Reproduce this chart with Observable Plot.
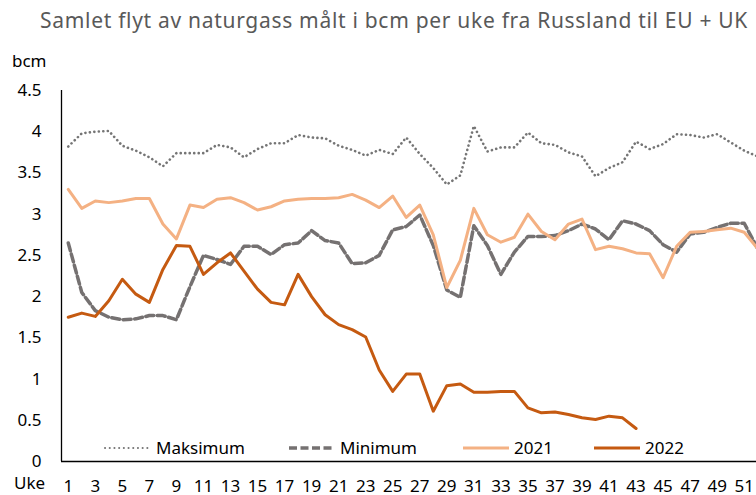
<!DOCTYPE html>
<html>
<head>
<meta charset="utf-8">
<script src="https://cdn.jsdelivr.net/npm/d3@7"></script>
<script src="https://cdn.jsdelivr.net/npm/@observablehq/plot@0.6"></script>
<style>
  html, body { margin: 0; padding: 0; background: #fff; }
  #wrap { position: relative; width: 756px; height: 495px; overflow: hidden; font-family: "Noto Sans", sans-serif; }
  #chart { position: absolute; left: 0; top: 0; width: 780px; }
  #chart svg { max-width: none !important; }
  #title { position: absolute; left: 40px; top: 6px; font-size: 21px; letter-spacing: 0.7px; color: #595959; white-space: nowrap; }
  #ylab { position: absolute; left: 12px; top: 52px; font-size: 17px; line-height: 17px; color: #000; }
  #xlab { position: absolute; left: 14px; top: 474px; font-size: 17px; line-height: 17px; color: #000; }
  .leg { position: absolute; top: 436px; font-size: 17px; color: #000; display: flex; align-items: center; white-space: nowrap; }
  .leg svg { margin-right: 5px; }
</style>
</head>
<body>
<div id="wrap">
  <div id="chart"></div>
  <div id="title">Samlet flyt av naturgass målt i bcm per uke fra Russland til EU + UK</div>
  <div id="ylab">bcm</div>
  <div id="xlab">Uke</div>
</div>
<script>
const weeks = d3.range(1, 53);
const xTickLabels = [1,3,5,7,9,11,13,15,17,19,21,23,25,27,29,31,33,35,37,39,41,43,45,47,49,51];
const yTickLabels = [0,0.5,1,1.5,2,2.5,3,3.5,4,4.5];

const maksimum = [3.82,3.98,4.00,4.01,3.83,3.77,3.69,3.58,3.74,3.74,3.74,3.84,3.81,3.69,3.79,3.86,3.86,3.96,3.93,3.92,3.83,3.78,3.71,3.78,3.73,3.93,3.73,3.56,3.36,3.47,4.07,3.76,3.81,3.81,3.99,3.86,3.84,3.75,3.70,3.46,3.56,3.63,3.88,3.79,3.85,3.97,3.96,3.93,3.97,3.87,3.77,3.70];
const minimum = [2.65,2.05,1.83,1.75,1.72,1.73,1.77,1.77,1.72,2.12,2.50,2.45,2.39,2.61,2.61,2.51,2.63,2.65,2.80,2.68,2.65,2.40,2.41,2.50,2.81,2.85,2.99,2.62,2.08,1.99,2.86,2.62,2.27,2.54,2.73,2.73,2.74,2.80,2.88,2.82,2.69,2.92,2.88,2.80,2.63,2.54,2.76,2.78,2.84,2.89,2.89,2.58];
const y2021 = [3.30,3.07,3.16,3.14,3.16,3.19,3.19,2.88,2.70,3.11,3.08,3.18,3.20,3.14,3.05,3.09,3.16,3.18,3.19,3.19,3.20,3.24,3.17,3.08,3.22,2.96,3.11,2.75,2.11,2.44,3.07,2.75,2.66,2.72,3.00,2.79,2.69,2.88,2.94,2.57,2.61,2.58,2.53,2.52,2.23,2.61,2.78,2.79,2.81,2.83,2.78,2.58];
const y2022 = [1.75,1.80,1.76,1.95,2.21,2.03,1.93,2.33,2.62,2.61,2.27,2.41,2.53,2.31,2.09,1.93,1.90,2.27,2.00,1.78,1.66,1.60,1.51,1.11,0.85,1.06,1.06,0.61,0.92,0.94,0.84,0.84,0.85,0.85,0.65,0.59,0.60,0.57,0.53,0.51,0.55,0.53,0.40];

const seriesNames = ["Maksimum", "Minimum", "2021", "2022"];
const seriesStyles = {
  "Maksimum": {stroke: "#757575", strokeWidth: 2.6, strokeDasharray: "0.1,4.4", strokeLinecap: "round", strokeLinejoin: "round"},
  "Minimum":  {stroke: "#757171", strokeWidth: 3.5, strokeDasharray: "8,3.5", strokeLinejoin: "round"},
  "2021":     {stroke: "#F4B183", strokeWidth: 3, strokeLinejoin: "round"},
  "2022":     {stroke: "#C55A11", strokeWidth: 3, strokeLinejoin: "round"}
};

const toRows = arr => arr.map((v, i) => ({week: weeks[i], value: v}));
const rowsBy = {
  "Maksimum": toRows(maksimum),
  "Minimum": toRows(minimum),
  "2021": toRows(y2021),
  "2022": toRows(y2022)
};

const plot = Plot.plot({
  width: 780,
  height: 495,
  marginLeft: 61,
  marginRight: 16,
  marginTop: 90,
  marginBottom: 34,
  style: {fontFamily: "'Noto Sans', sans-serif", fontSize: "17px", color: "#000", background: "transparent", overflow: "visible", maxWidth: "none"},
  x: {type: "linear", domain: [0.5, 52.5], ticks: xTickLabels, tickSize: 0, tickPadding: 18, tickFormat: d => String(d), label: null},
  y: {domain: [0, 4.5], ticks: yTickLabels, tickSize: 0, tickPadding: 20, tickFormat: d => String(d), label: null},
  marks: [
    ...seriesNames.map(name => Plot.line(rowsBy[name], {x: "week", y: "value", ...seriesStyles[name]})),
    Plot.ruleX([0.5], {stroke: "#000", strokeWidth: 1.3}),
    Plot.ruleY([0], {stroke: "#000", strokeWidth: 1.3})
  ]
});
document.getElementById("chart").appendChild(plot);

// legend
const legendLeft = {"Maksimum": 104, "Minimum": 288, "2021": 462, "2022": 593};
const wrap = document.getElementById("wrap");
seriesNames.forEach(name => {
  const s = seriesStyles[name];
  const div = document.createElement("div");
  div.className = "leg";
  div.style.left = legendLeft[name] + "px";
  const dash = s.strokeDasharray ? `stroke-dasharray="${s.strokeDasharray}"` : "";
  const cap = s.strokeLinecap ? `stroke-linecap="${s.strokeLinecap}"` : "";
  div.innerHTML = `<svg width="47" height="10"><line x1="1" y1="5" x2="47" y2="5" stroke="${s.stroke}" stroke-width="${name === "Maksimum" ? 2 : s.strokeWidth}" ${name === "Maksimum" ? 'stroke-dasharray="0.1,4.6" stroke-linecap="round"' : dash + " " + cap}/></svg><span>${name}</span>`;
  wrap.appendChild(div);
});
</script>
</body>
</html>
